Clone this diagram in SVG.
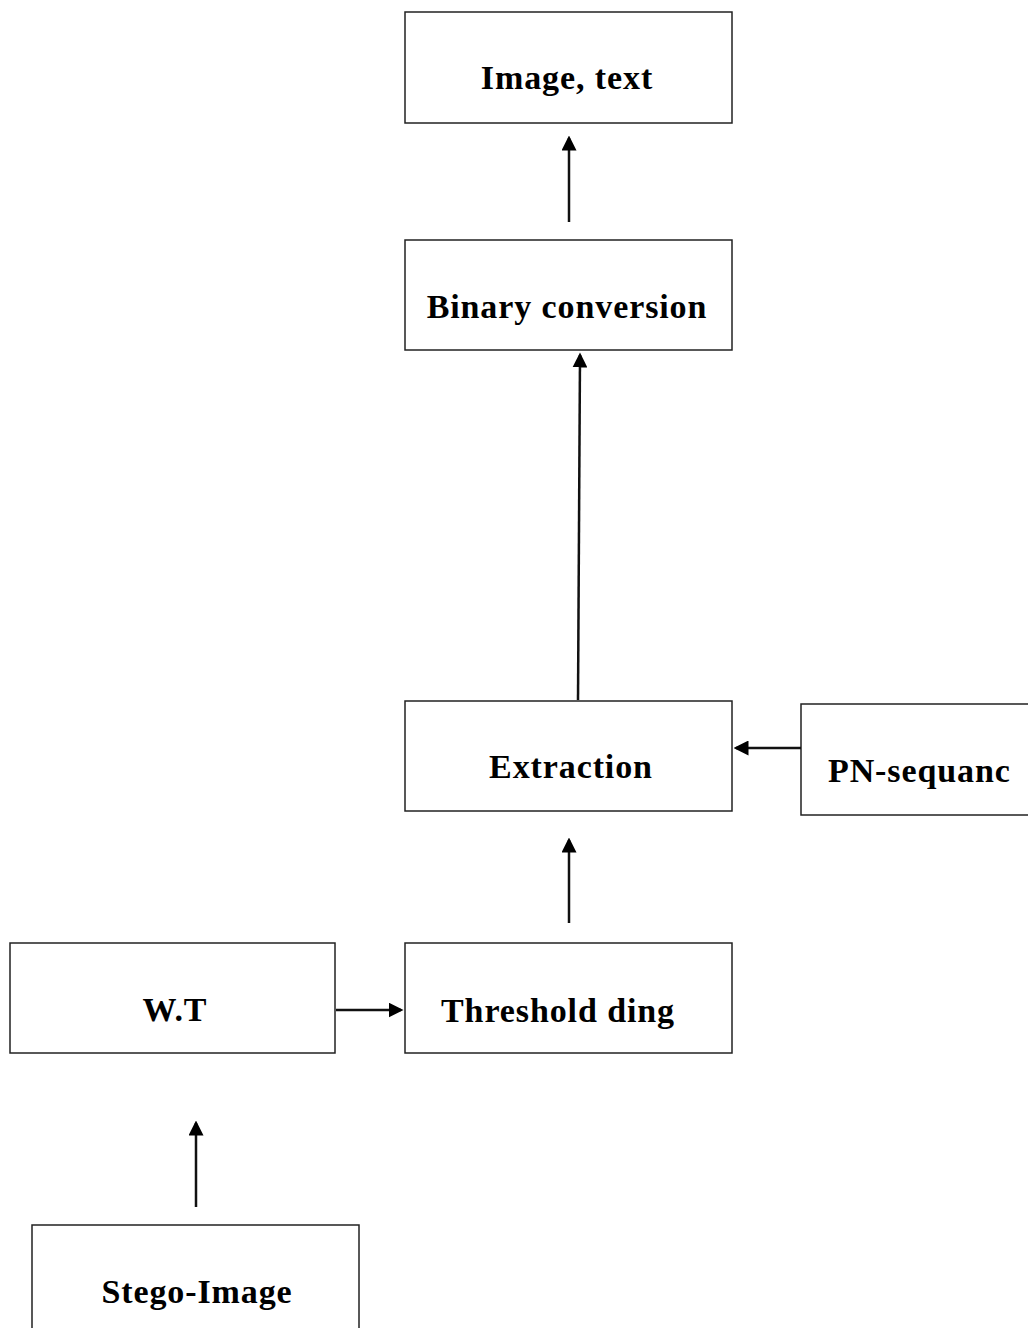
<svg xmlns="http://www.w3.org/2000/svg" width="1028" height="1328" viewBox="0 0 1028 1328">
<style>
.box{fill:#fff;stroke:#222;stroke-width:1.5}
.lbl{font-family:"Liberation Serif","Times New Roman",serif;font-weight:bold;font-size:34px;letter-spacing:0.9px;fill:#000}
.c{text-anchor:middle}
.conn{stroke:#111;stroke-width:2.5;fill:none;marker-end:url(#ah)}
</style>
<defs>
<marker id="ah" markerWidth="6" markerHeight="6" refX="5" refY="3" orient="auto" markerUnits="strokeWidth">
<path d="M0,0 L6,3 L0,6 z" fill="#000"/>
</marker>
</defs>
<rect width="1028" height="1328" fill="#fff"/>
<g id="node-image-text"><rect class="box" x="405" y="12" width="327" height="111"/><text class="lbl c" x="567" y="89">Image, text</text></g>
<g id="node-binary"><rect class="box" x="405" y="240" width="327" height="110"/><text class="lbl c" x="567" y="318">Binary conversion</text></g>
<g id="node-extraction"><rect class="box" x="405" y="701" width="327" height="110"/><text class="lbl c" x="571" y="778">Extraction</text></g>
<g id="node-pn"><rect class="box" x="801" y="704" width="240" height="111"/><text class="lbl" x="828" y="782">PN-sequanc</text></g>
<g id="node-wt"><rect class="box" x="10" y="943" width="325" height="110"/><text class="lbl c" x="175" y="1021">W.T</text></g>
<g id="node-threshold"><rect class="box" x="405" y="943" width="327" height="110"/><text class="lbl" x="441" y="1022">Threshold ding</text></g>
<g id="node-stego"><rect class="box" x="32" y="1225" width="327" height="110"/><text class="lbl c" x="197" y="1303">Stego-Image</text></g>
<g id="connectors">
<line class="conn" x1="569" y1="222" x2="569" y2="138"/>
<line class="conn" x1="578" y1="700" x2="580" y2="355"/>
<line class="conn" x1="801" y1="748" x2="736" y2="748"/>
<line class="conn" x1="569" y1="923" x2="569" y2="840"/>
<line class="conn" x1="336" y1="1010" x2="401" y2="1010"/>
<line class="conn" x1="196" y1="1207" x2="196" y2="1123"/>
</g>
</svg>
